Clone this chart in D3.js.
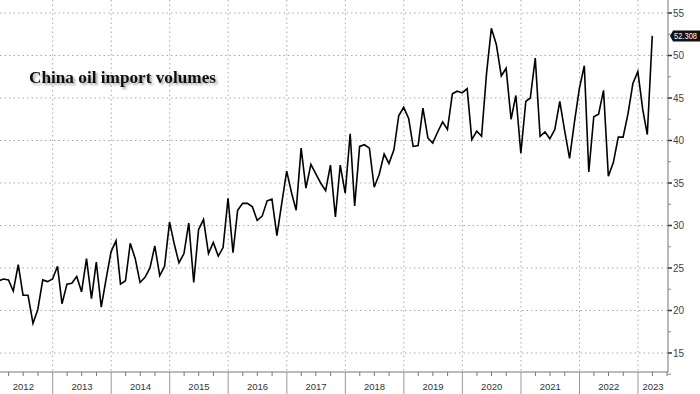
<!DOCTYPE html>
<html>
<head>
<meta charset="utf-8">
<script src="https://cdn.jsdelivr.net/npm/d3@7"></script>
<style>
  body { margin: 0; background: #fff; }
</style>
</head>
<body>
<div id="chart"></div>
<script>
// monthly crude import volumes, one array per year (month-end points)
const y2012 = [23.5, 23.7, 23.6, 22.3, 25.4, 21.8, 21.8, 18.5, 20.1, 23.6, 23.4, 23.7];
const y2013 = [25.2, 20.8, 23.1, 23.2, 24.0, 22.2, 26.1, 21.4, 25.7, 20.4, 23.7, 26.9];
const y2014 = [28.2, 23.1, 23.5, 27.9, 26.1, 23.3, 23.9, 25.0, 27.6, 24.1, 25.2, 30.4];
const y2015 = [27.7, 25.6, 26.7, 30.3, 23.3, 29.5, 30.7, 26.7, 28.0, 26.4, 27.4, 33.2];
const y2016 = [26.8, 31.8, 32.6, 32.6, 32.2, 30.6, 31.1, 32.9, 33.1, 28.8, 32.6, 36.4];
const y2017 = [33.8, 31.8, 39.1, 34.4, 37.2, 36.1, 35.0, 34.1, 37.1, 31.0, 37.1, 33.8];
const y2018 = [40.8, 32.3, 39.3, 39.5, 39.1, 34.5, 36.0, 38.4, 37.3, 38.9, 42.9, 43.9];
const y2019 = [42.6, 39.3, 39.4, 43.8, 40.3, 39.7, 41.0, 42.2, 41.3, 45.5, 45.8, 45.6];
const y2020 = [46.1, 40.1, 41.1, 40.5, 47.9, 53.2, 51.3, 47.6, 48.5, 42.5, 45.3, 38.5];
const y2021 = [44.6, 45.0, 49.7, 40.5, 41.0, 40.2, 41.3, 44.6, 41.2, 37.9, 42.1, 46.1];
const y2022 = [48.8, 36.3, 42.8, 43.1, 45.9, 35.8, 37.4, 40.4, 40.4, 43.2, 46.7, 48.1];
const y2023 = [43.6, 40.7, 52.308];

const yearLabels = ["2012", "2013", "2014", "2015", "2016", "2017", "2018", "2019", "2020", "2021", "2022", "2023"];
const yTicks = [15, 20, 25, 30, 35, 40, 45, 50, 55];
const lastLabel = "52.308";
const title = "China oil import volumes";

const width = 700;
const height = 394;
const plotRight = 668;
const axisY = 372;

let svg;

function setup() {
  svg = d3.select("#chart").append("svg")
    .attr("width", width)
    .attr("height", height)
    .style("background", "#fff")
    .style("display", "block");

  const defs = svg.append("defs");
  defs.append("clipPath").attr("id", "plotClip")
    .append("rect").attr("x", 0).attr("y", 0).attr("width", plotRight).attr("height", axisY);

  const f = defs.append("filter").attr("id", "shadow")
    .attr("x", "-10%").attr("y", "-30%").attr("width", "120%").attr("height", "180%");
  f.append("feDropShadow")
    .attr("dx", 2).attr("dy", 2).attr("stdDeviation", 1.2)
    .attr("flood-color", "#000").attr("flood-opacity", 0.35);
}

function make() {
  const values = [].concat(y2012, y2013, y2014, y2015, y2016, y2017, y2018, y2019, y2020, y2021, y2022, y2023);
  const data = values.map((v, i) => ({ date: new Date(2012, i + 1, 0), value: v }));

  // time scale: Jan 1 2013 sits at x=52.7, Jan 1 2023 at x=638
  const x = d3.scaleTime()
    .domain([new Date(2013, 0, 1), new Date(2023, 0, 1)])
    .range([52.7, 638]);
  const xStart = x.invert(0);
  const xEnd = x.invert(plotRight);

  const y = d3.scaleLinear().domain([15, 55]).range([353, 13]);

  // horizontal dotted grid
  svg.append("g").selectAll("line")
    .data(yTicks)
    .enter().append("line")
      .attr("x1", 0).attr("x2", plotRight)
      .attr("y1", d => y(d)).attr("y2", d => y(d))
      .style("stroke", "#a8a8a8")
      .style("stroke-width", 1)
      .style("stroke-dasharray", "1.5,3");

  // vertical dotted grid at year boundaries
  const yearStarts = d3.timeYear.range(new Date(2013, 0, 1), xEnd);
  svg.append("g").selectAll("line")
    .data(yearStarts)
    .enter().append("line")
      .attr("x1", d => x(d)).attr("x2", d => x(d))
      .attr("y1", 0).attr("y2", axisY)
      .style("stroke", "#a8a8a8")
      .style("stroke-width", 1)
      .style("stroke-dasharray", "1.5,3");

  // title with soft shadow
  svg.append("text")
    .attr("x", 29)
    .attr("y", 83)
    .attr("filter", "url(#shadow)")
    .style("font-family", "'Liberation Serif', 'DejaVu Serif', serif")
    .style("font-weight", "bold")
    .style("font-size", "17px")
    .style("fill", "#111")
    .attr("textLength", 187)
    .attr("lengthAdjust", "spacingAndGlyphs")
    .text(title);

  // the series line
  const line = d3.line()
    .x(d => x(d.date))
    .y(d => y(d.value));

  svg.append("path")
    .datum(data)
    .attr("clip-path", "url(#plotClip)")
    .attr("d", line)
    .style("fill", "none")
    .style("stroke", "#000")
    .style("stroke-width", 1.6)
    .style("stroke-linejoin", "miter");

  // bottom axis
  svg.append("line")
    .attr("x1", 0).attr("x2", plotRight)
    .attr("y1", axisY).attr("y2", axisY)
    .style("stroke", "#777").style("stroke-width", 1);

  const quarters = d3.timeMonth.every(3).range(xStart, xEnd)
    .filter(d => d.getMonth() !== 0);
  svg.append("g").selectAll("line")
    .data(quarters)
    .enter().append("line")
      .attr("x1", d => x(d)).attr("x2", d => x(d))
      .attr("y1", axisY).attr("y2", axisY + 4)
      .style("stroke", "#777");

  svg.append("g").selectAll("line")
    .data(yearStarts)
    .enter().append("line")
      .attr("x1", d => x(d)).attr("x2", d => x(d))
      .attr("y1", axisY).attr("y2", height)
      .style("stroke", "#999");

  svg.append("g").selectAll("text")
    .data(yearLabels)
    .enter().append("text")
      .attr("x", d => {
        const a = Math.max(x(new Date(+d, 0, 1)), x(new Date(2012, 0, 1)));
        const b = Math.min(x(new Date(+d + 1, 0, 1)), plotRight);
        return (a + b) / 2;
      })
      .attr("y", 390)
      .attr("text-anchor", "middle")
      .style("font-family", "'Liberation Sans', Arial, sans-serif")
      .style("font-size", "9.5px")
      .style("fill", "#333")
      .text(d => d);

  // right axis
  svg.append("line")
    .attr("x1", plotRight).attr("x2", plotRight)
    .attr("y1", 0).attr("y2", axisY)
    .style("stroke", "#777").style("stroke-width", 1);

  const minor = d3.range(12.5, 56, 2.5).filter(v => !yTicks.includes(v));
  svg.append("g").selectAll("line")
    .data(minor)
    .enter().append("line")
      .attr("x1", plotRight).attr("x2", plotRight + 3)
      .attr("y1", d => y(d)).attr("y2", d => y(d))
      .style("stroke", "#888");

  svg.append("g").selectAll("line")
    .data(yTicks)
    .enter().append("line")
      .attr("x1", plotRight).attr("x2", plotRight + 4)
      .attr("y1", d => y(d)).attr("y2", d => y(d))
      .style("stroke", "#333").style("stroke-width", 1.5);

  svg.append("g").selectAll("text")
    .data(yTicks)
    .enter().append("text")
      .attr("x", plotRight + 5)
      .attr("y", d => y(d) + 3.5)
      .style("font-family", "'Liberation Sans', Arial, sans-serif")
      .style("font-size", "10px")
      .style("fill", "#444")
      .text(d => d);

  // last value tag
  const last = data[data.length - 1];
  const ty = y(last.value);
  const tag = svg.append("g").attr("transform", `translate(${plotRight + 2}, ${ty})`);
  tag.append("path")
    .attr("d", "M0,0 L3,-5.5 L30,-5.5 L30,5.5 L3,5.5 Z")
    .style("fill", "#111");
  tag.append("text")
    .attr("x", 4)
    .attr("y", 3)
    .attr("textLength", 23)
    .attr("lengthAdjust", "spacingAndGlyphs")
    .style("font-family", "'Liberation Sans', Arial, sans-serif")
    .style("font-size", "8.5px")
    .style("fill", "#fff")
    .text(lastLabel);
}

setup();
make();
</script>
</body>
</html>
